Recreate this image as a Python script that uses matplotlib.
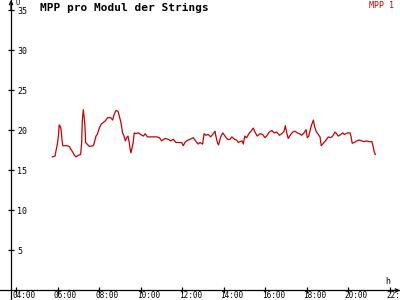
import matplotlib.pyplot as plt
from matplotlib.transforms import ScaledTranslation

# time of day (decimal hours) and MPP voltage per module
hours = [5.75, 5.88, 5.92, 5.99, 6.04, 6.08, 6.13, 6.17, 6.21, 6.25,
         6.44, 6.57, 6.65, 6.73, 6.81, 6.89, 7.00, 7.11, 7.16, 7.19,
         7.24, 7.29, 7.32, 7.35, 7.42, 7.53, 7.72, 7.77, 7.85, 7.91,
         8.01, 8.10, 8.20, 8.30, 8.41, 8.56, 8.65, 8.72, 8.81, 8.91,
         8.97, 9.05, 9.13, 9.20, 9.26, 9.33, 9.39, 9.45, 9.49, 9.53,
         9.58, 9.64, 9.69, 9.77, 9.89, 10.00, 10.13, 10.22, 10.32, 10.61,
         10.77, 10.90, 11.01, 11.17, 11.33, 11.44, 11.57, 11.70, 11.86, 11.97,
         12.05, 12.13, 12.21, 12.37, 12.53, 12.70, 12.77, 12.85, 12.98, 13.05,
         13.14, 13.25, 13.37, 13.49, 13.58, 13.62, 13.69, 13.75, 13.85, 13.95,
         14.06, 14.17, 14.30, 14.39, 14.51, 14.62, 14.70, 14.78, 14.88, 14.94,
         15.01, 15.10, 15.23, 15.34, 15.42, 15.50, 15.61, 15.74, 15.87, 15.98,
         16.06, 16.19, 16.31, 16.42, 16.55, 16.67, 16.79, 16.90, 16.96, 17.03,
         17.10, 17.22, 17.32, 17.43, 17.54, 17.63, 17.75, 17.86, 17.96, 18.02,
         18.09, 18.18, 18.24, 18.31, 18.37, 18.44, 18.55, 18.63, 18.69, 18.79,
         18.92, 19.03, 19.14, 19.24, 19.35, 19.43, 19.51, 19.63, 19.72, 19.80,
         19.88, 19.96, 20.07, 20.12, 20.18, 20.27, 20.40, 20.52, 20.64, 20.75,
         20.88, 21.00, 21.13, 21.19, 21.23, 21.29]
mpp = [16.7, 16.8, 17.4, 18.3, 19.3, 20.7, 20.5, 20.1, 18.9, 18.1,
       18.1, 18.0, 17.6, 17.3, 16.9, 16.7, 16.9, 17.0, 18.5, 21.2,
       22.6, 21.4, 20.5, 18.5, 18.3, 18.0, 18.1, 18.5, 19.3, 19.5,
       20.3, 20.8, 21.0, 21.2, 21.6, 21.6, 21.3, 22.0, 22.5, 22.4,
       21.8, 21.0, 19.7, 19.3, 18.7, 19.1, 19.3, 18.5, 17.7, 17.2,
       17.8, 18.5, 19.7, 19.6, 19.7, 19.5, 19.3, 19.6, 19.2, 19.2,
       19.2, 19.1, 18.7, 19.0, 18.9, 18.7, 18.9, 18.5, 18.5, 18.5,
       18.1, 18.5, 18.7, 18.9, 19.1, 18.5, 18.3, 18.5, 18.3, 19.6,
       19.4, 19.5, 19.2, 19.6, 19.9, 19.3, 18.5, 18.2, 19.2, 19.7,
       19.3, 18.9, 18.9, 19.2, 18.9, 18.8, 18.5, 18.6, 18.7, 18.3,
       19.3, 19.1, 19.7, 20.0, 20.3, 19.8, 19.3, 19.6, 19.5, 19.1,
       19.3, 19.8, 20.0, 19.7, 19.8, 19.4, 19.6, 19.9, 20.6, 19.7,
       19.0, 19.5, 19.8, 19.9, 19.7, 19.6, 19.4, 19.7, 20.1, 19.1,
       19.3, 20.3, 20.8, 21.3, 20.5, 19.9, 19.5, 19.2, 18.1, 18.4,
       18.8, 19.2, 19.1, 19.3, 19.8, 19.6, 19.3, 19.5, 19.7, 19.5,
       19.6, 19.7, 19.7, 19.3, 18.4, 18.5, 18.7, 18.8, 18.7, 18.6,
       18.7, 18.6, 18.6, 18.0, 17.4, 17.0]
xticks = [4, 6, 8, 10, 12, 14, 16, 18, 20, 22]
yticks = [5, 10, 15, 20, 25, 30, 35]

red = '#cc0000'
plt.rcParams['font.family'] = 'DejaVu Sans Mono'

fig = plt.figure(figsize=(4, 3), dpi=100)
ax = fig.add_axes([0, 0, 1, 1])
ax.set_xlim(3.23, 22.48)
ax.set_ylim(-1.19, 36.31)

ax.plot(hours, mpp, color=red, lw=0.9)

# axes crossing at (3.76, 0)
ax.spines['top'].set_visible(False)
ax.spines['left'].set_position(('data', 3.76))
ax.spines['right'].set_position(('data', 3.76))
ax.spines['right'].set_visible(False)
ax.spines['bottom'].set_position(('data', 0))
for s in ['left', 'bottom']:
    ax.spines[s].set_linewidth(0.9)

ax.set_yticks(yticks)
ax.yaxis.set_ticks_position('both')
ax.tick_params(axis='y', which='major', left=True, right=False,
               labelleft=False, labelright=True, direction='inout',
               length=5, width=0.9, labelsize=6, pad=2)
ax.set_xticks(xticks)
ax.set_xticklabels(['%02d:00' % h for h in xticks])
ax.tick_params(axis='x', direction='inout', length=4, width=0.9,
               labelsize=5.5, pad=-1.5)
shift = ScaledTranslation(8 / 100, 0, fig.dpi_scale_trans)
for lbl in ax.get_xticklabels():
    lbl.set_transform(lbl.get_transform() + shift)

# arrow heads
ax.annotate('', xy=(3.76, 36.31), xytext=(3.76, 35.0),
            arrowprops=dict(arrowstyle='->', lw=0.9, color='black',
                            mutation_scale=6, shrinkA=0, shrinkB=0))
ax.annotate('', xy=(22.48, 0), xytext=(22.0, 0),
            arrowprops=dict(arrowstyle='->', lw=0.9, color='black',
                            mutation_scale=6, shrinkA=0, shrinkB=0))

fig.text(40 / 400, 1 - 8 / 300, 'MPP pro Modul der Strings',
         fontsize=8, fontweight='bold', va='center', ha='left')
fig.text(394 / 400, 1 - 5 / 300, 'MPP 1', color=red, fontsize=6,
         va='center', ha='right')
fig.text(16 / 400, 1 - 3 / 300, 'U', fontsize=5, va='center', ha='left')
fig.text(385 / 400, 1 - 281 / 300, 'h', fontsize=6, va='center', ha='left')

fig.savefig('out.png', dpi=100, facecolor='white')
